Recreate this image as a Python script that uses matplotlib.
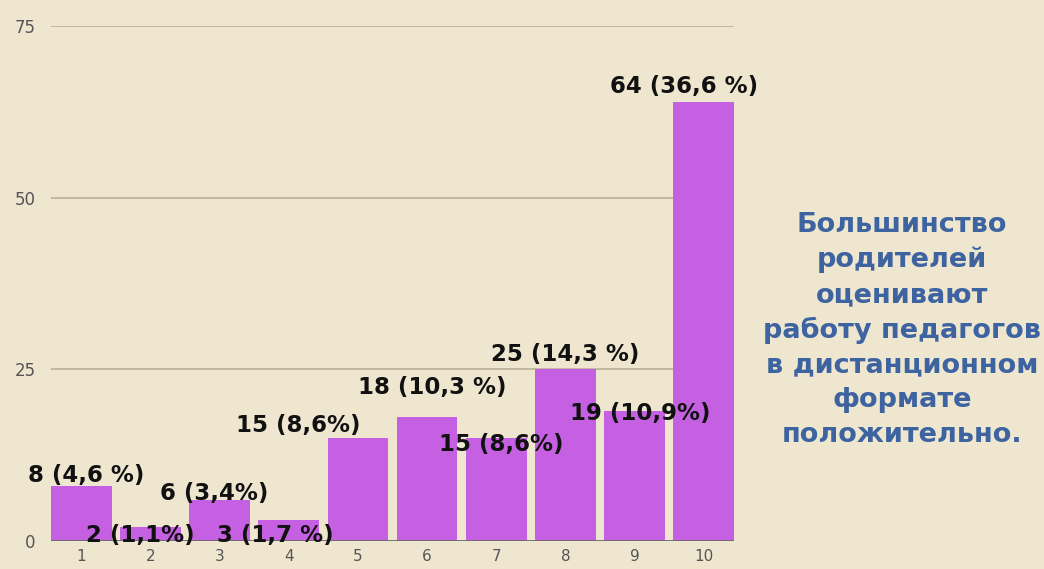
import numpy as np
import matplotlib
matplotlib.use('Agg')
import matplotlib.pyplot as plt

# ---- data ----
scores = [1, 2, 3, 4, 5, 6, 7, 8, 9, 10]
counts = [8, 2, 6, 3, 15, 18, 15, 25, 19, 64]
labels = ['8 (4,6 %)', '2 (1,1%)', '6 (3,4%)', '3 (1,7 %)', '15 (8,6%)',
          '18 (10,3 %)', '15 (8,6%)', '25 (14,3 %)', '19 (10,9%)', '64 (36,6 %)']
y_ticks = [0, 25, 50, 75]
note = ('Большинство\nродителей\nоценивают\nработу педагогов\n'
        'в дистанционном\nформате\nположительно.')

# label offsets relative to bar (x, top) -- the original labels are placed unevenly
label_dx = [0.07, -0.15, -0.08, -0.20, -0.87, 0.07, 0.07, 0.0, 0.08, -0.28]
label_y = [9.5, 0.75, 6.9, 0.75, 16.8, 22.4, 14.0, 27.2, 18.6, 66.2]

BG = '#efe6d0'
BAR = '#c660e2'
GRID = '#bdb59e'
NOTE = '#3d63a0'

plt.rcParams['font.family'] = ['DejaVu Sans']

fig = plt.figure(figsize=(10.44, 5.69), dpi=100, facecolor=BG)
ax = fig.add_axes([51 / 1044, 1 - 541 / 569, (734 - 51) / 1044, (541 - 26) / 569])
ax.set_facecolor(BG)

ax.bar(scores, counts, width=0.88, color=BAR, zorder=2)
ax.set_xlim(0.56, 10.44)
ax.set_ylim(0, 75)

ax.set_yticks(y_ticks)
ax.set_xticks(scores)
ax.tick_params(axis='both', length=0, colors='#555555')
ax.tick_params(axis='y', pad=11, labelsize=12)
ax.tick_params(axis='x', pad=6, labelsize=11)

for v in y_ticks[1:]:
    ax.axhline(v, color=GRID, lw=1.3, zorder=1)
ax.axhline(0, color='#6b6b6b', lw=1.3, zorder=3)

for s in ax.spines.values():
    s.set_visible(False)

for x, dx, y, t in zip(scores, label_dx, label_y, labels):
    ax.text(x + dx, y, t, ha='center', va='center', fontsize=16.5,
            fontweight='bold', color='#111111', zorder=4)

fig.text(902 / 1044, 1 - 330 / 569, note, ha='center', va='center',
         fontsize=19.5, fontweight='bold', color=NOTE, linespacing=1.43)

fig.savefig('out.png', dpi=100, facecolor=BG)
